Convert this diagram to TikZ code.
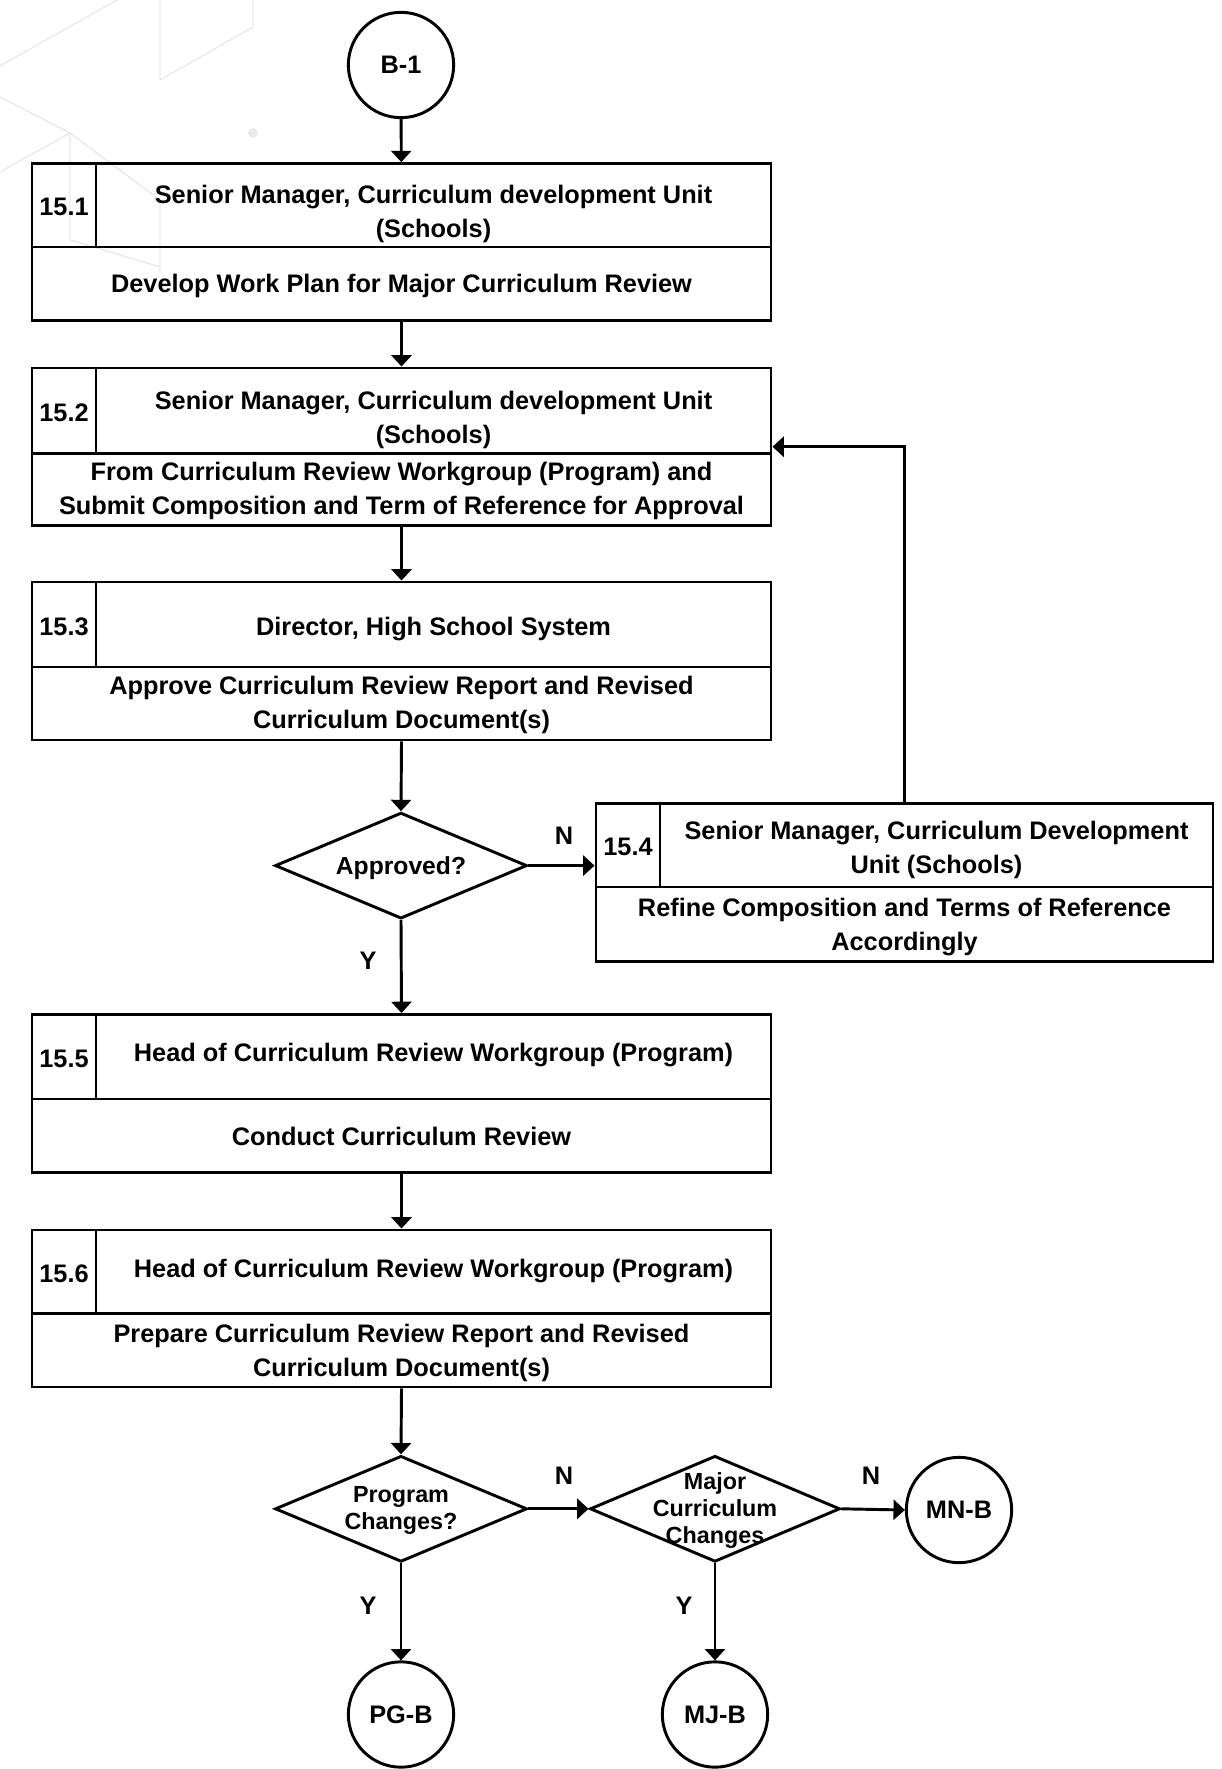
\documentclass[tikz,border=0pt]{standalone}
\usepackage{fontspec}
\setmainfont{Liberation Sans}
\usetikzlibrary{arrows.meta,fit,shapes.geometric,calc}
\definecolor{bgline}{HTML}{E8EAEE}
\newcommand\pbox[8]{%
  \node[fit={(#2,#4)(#3,#6)}, inner sep=0pt, draw, line] (#1) {};
  \draw[line] (#2,#5) -- (#3,#5);
  \draw[line] (#7,#4) -- (#7,#5);
  \node[txt] (#1n) at ({(#2+#7)/2},{(#4+#5)/2+2}) {#8};
}
\begin{document}
\begin{tikzpicture}[x=0.75pt,y=-0.75pt,
  line/.style={line width=2.2pt},
  arr/.style={line width=2.2pt,-{Triangle[length=8.5pt,width=15pt]}},
  txt/.style={font=\bfseries\fontsize{19}{25.5}\selectfont, align=center, inner sep=0pt},
  dtxt/.style={font=\bfseries\fontsize{17.5}{20.25}\selectfont, align=center, inner sep=0pt},
  conn/.style={circle, draw, line width=2.2pt, minimum size=79pt, inner sep=0pt, font=\bfseries\fontsize{19}{25.5}\selectfont},
  dia/.style={diamond, draw, line width=2.2pt, minimum width=189pt, minimum height=79.5pt, inner sep=0pt},
  bg/.style={draw=bgline, line width=1.1pt}
]
\useasboundingbox (0,0) rectangle (1221,1769);
% faint background pattern
\draw[bg] (0,66) -- (117,0);
\draw[bg] (160,0) -- (160,80) -- (253,27) -- (253,0);
\draw[bg] (0,97) -- (70,133) -- (160,200) -- (160,273);
\draw[bg] (70,133) -- (0,172);
\draw[bg] (70,133) -- (70,240) -- (160,267);
\fill[bgline] (253,133) circle (5);

% start connector
\node[conn] (c0) at (401,65) {B-1};

% process boxes
\pbox{b1}{32}{771}{163.6}{247}{320.5}{96}{15.1}
\node[txt] (b1h) at (433.5,214) {Senior Manager, Curriculum development Unit\\(Schools)};
\node[txt] (b1b) at (401.5,286) {Develop Work Plan for Major Curriculum Review};

\pbox{b2}{32}{771}{368}{453.5}{525.5}{96}{15.2}
\node[txt] (b2h) at (433.5,420) {Senior Manager, Curriculum development Unit\\(Schools)};
\node[txt] (b2b) at (401.5,490.5) {From Curriculum Review Workgroup (Program) and\\Submit Composition and Term of Reference for Approval};

\pbox{b3}{32}{771}{582}{667}{740}{96}{15.3}
\node[txt] (b3h) at (433.5,629) {Director, High School System};
\node[txt] (b3b) at (401.5,705) {Approve Curriculum Review Report and Revised\\Curriculum Document(s)};

\pbox{b4}{596}{1213}{803.5}{887}{961.5}{660}{15.4}
\node[txt] (b4h) at (936.5,850) {Senior Manager, Curriculum Development\\Unit (Schools)};
\node[txt] (b4b) at (904.5,926.5) {Refine Composition and Terms of Reference\\Accordingly};

\pbox{b5}{32}{771}{1014.5}{1099}{1172.5}{96}{15.5}
\node[txt] (b5h) at (433.5,1055) {Head of Curriculum Review Workgroup (Program)};
\node[txt] (b5b) at (401.5,1136.5) {Conduct Curriculum Review};

\pbox{b6}{32}{771}{1230}{1313.5}{1387}{96}{15.6}
\node[txt] (b6h) at (433.5,1271) {Head of Curriculum Review Workgroup (Program)};
\node[txt] (b6b) at (401.5,1352.5) {Prepare Curriculum Review Report and Revised\\Curriculum Document(s)};

% decisions
\node[dia] (d1) at (401,865.6) {};
\node[txt, font=\bfseries\fontsize{18.5}{22}\selectfont] (d1t) at (401,868.5) {Approved?};
\node[dia] (d2) at (401,1508.8) {};
\node[dtxt] (d2t) at (401,1510) {Program\\Changes?};
\node[dia, minimum width=187.5pt] (d3) at (715,1508.8) {};
\node[dtxt] (d3t) at (715,1510) {Major\\Curriculum\\Changes};

% end connectors
\node[conn] (mn) at (959,1510) {MN-B};
\node[conn] (pg) at (401,1714.5) {PG-B};
\node[conn] (mj) at (715,1714.5) {MJ-B};

% connectors
\draw[arr] (c0) -- (b1);
\draw[arr] (b1) -- (b2);
\draw[arr] (b2) -- (b3);
\draw[arr] (b3.south) -- (d1.north);
\draw[arr] (d1.east) -- (d1.east -| b4.west);
\draw[arr] (b4.north) |- (b2.east);
\draw[arr] (d1.south) -- (b5.north);
\draw[arr] (b5) -- (b6);
\draw[arr] (b6.south) -- (d2.north);
\draw[arr] (d2.east) -- (d3.west);
\draw[arr] (d3.east) -- (mn.west);
\draw[arr] (d2.south) -- (pg.north);
\draw[arr] (d3.south) -- (mj.north);

% branch labels
\node[txt] (l1) at (564,836) {N};
\node[txt] (l2) at (368,961) {Y};
\node[txt] (l3) at (564,1476) {N};
\node[txt] (l4) at (871,1476) {N};
\node[txt] (l5) at (368,1606) {Y};
\node[txt] (l6) at (684,1606) {Y};
\end{tikzpicture}
\end{document}
